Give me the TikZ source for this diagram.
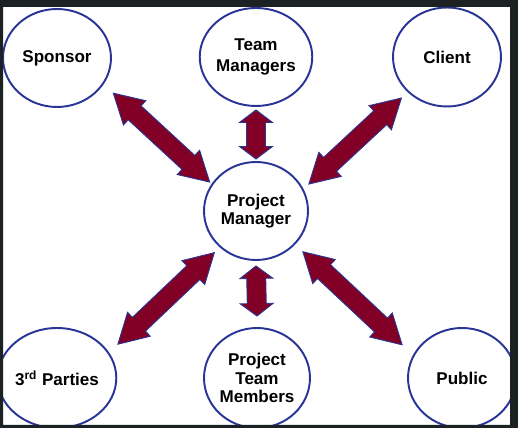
\documentclass[tikz,border=0pt]{standalone}
\usepackage{fontspec}
\setmainfont{Liberation Sans}
\usetikzlibrary{calc, shapes.geometric}

\definecolor{ringblue}{RGB}{40,52,150}
\definecolor{arrowred}{RGB}{130,0,38}
\definecolor{framegrey}{RGB}{28,33,36}

\tikzset{
  party/.style={ellipse, draw=ringblue, line width=1.1pt, fill=white,
    minimum width=2.16cm, minimum height=1.96cm, inner sep=0pt, align=center,
    font=\fontsize{9.7}{10.5}\selectfont\bfseries},
  blockarrow/.style={fill=arrowred, draw=ringblue, line width=0.5pt}
}

% two-headed block arrow from #1 to #2, head length #3
\newcommand{\twoway}[3]{%
  \filldraw[blockarrow] (#1)
    -- ($(#1)!#3!(#2)!0.33cm!90:(#2)$)
    -- ($(#1)!#3!(#2)!0.19cm!90:(#2)$)
    -- ($(#2)!#3!(#1)!0.19cm!-90:(#1)$)
    -- ($(#2)!#3!(#1)!0.33cm!-90:(#1)$)
    -- (#2)
    -- ($(#2)!#3!(#1)!0.33cm!90:(#1)$)
    -- ($(#2)!#3!(#1)!0.19cm!90:(#1)$)
    -- ($(#1)!#3!(#2)!0.19cm!-90:(#2)$)
    -- ($(#1)!#3!(#2)!0.33cm!-90:(#2)$)
    -- cycle;}

\begin{document}
\begin{tikzpicture}[x=0.02cm, y=-0.02cm]
\useasboundingbox (0,0) rectangle (518,428);
\fill[white] (0,0) rectangle (518,428);

\node[party] (spon) at (57,58) {Sponsor};
\node[party] (tm) at (256,57) {Team\\[1.8pt]Managers};
\node[party, minimum height=1.98cm] (client) at (447,57) {Client};
\node[party, minimum width=2.08cm] (pm) at (256,211) {Project\\Manager};
\node[party, minimum height=2cm] (third) at (57,378) {3\textsuperscript{rd} Parties};
\node[party, minimum width=2.12cm, minimum height=2cm] (ptm) at (257,378) {Project\\Team\\Members};
\node[party, minimum height=2cm] (public) at (462,378) {Public};

\coordinate (s1) at ($(spon.-32.5)!-0.26cm!(spon)$);
\coordinate (s2) at ($(pm.148.7)!-0.05cm!(pm)$);
\coordinate (c1) at ($(client.-138.8)!-0.17cm!(client)$);
\coordinate (c2) at ($(pm.27.6)!-0.14cm!(pm)$);
\coordinate (t1) at ($(tm.-90)!-0.06cm!(tm)$);
\coordinate (t2) at ($(pm.90)!-0.04cm!(pm)$);
\coordinate (r1) at ($(third.29.6)!-0.24cm!(third)$);
\coordinate (r2) at ($(pm.-135.2)!-0.15cm!(pm)$);
\coordinate (m1) at ($(ptm.90)!-0.22cm!(ptm)$);
\coordinate (m2) at ($(pm.-90)!-0.1cm!(pm)$);
\coordinate (p1) at ($(public.151.6)!-0.29cm!(public)$);
\coordinate (p2) at ($(pm.-41.7)!-0.21cm!(pm)$);

\twoway{s1}{s2}{0.58cm}
\twoway{c1}{c2}{0.58cm}
\twoway{r1}{r2}{0.58cm}
\twoway{p1}{p2}{0.58cm}
\twoway{t1}{t2}{0.25cm}
\twoway{m1}{m2}{0.25cm}

% dark frame round the slide
\fill[framegrey, even odd rule] (0,0) rectangle (518,428) (3,7) rectangle (510,425);
\end{tikzpicture}
\end{document}
